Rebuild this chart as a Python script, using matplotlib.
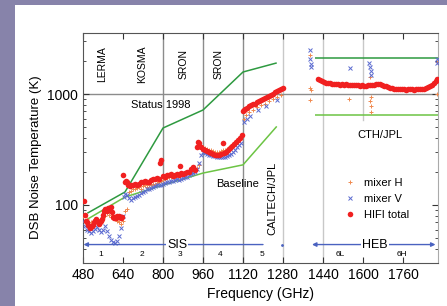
import matplotlib
matplotlib.use("Agg")
import matplotlib.pyplot as plt
from matplotlib.patches import Rectangle

plt.rcParams['font.family'] = ['Liberation Sans', 'DejaVu Sans']

# HIFI total (red dots), GHz / K
tot_f = [484, 488, 492, 496, 500, 504, 508, 512, 516, 520, 524, 528, 532, 536, 540, 544,
         548, 552, 556, 560, 564, 568, 572, 576, 580, 584, 588, 592, 596, 600, 604, 608,
         612, 616, 620, 624, 628, 632, 636, 640, 648, 652, 656, 660, 664, 668, 672, 680,
         688, 696, 704, 712, 720, 728, 736, 744, 752, 760, 768, 776, 784, 788, 792, 800,
         808, 816, 824, 832, 840, 848, 856, 864, 868, 872, 880, 888, 896, 904, 912, 920,
         928, 936, 940, 944, 952, 960, 968, 976, 984, 992, 1000, 1008, 1016, 1024, 1032,
         1040, 1044, 1052, 1060, 1068, 1076, 1084, 1092, 1100, 1108, 1116, 1120, 1124,
         1128, 1136, 1144, 1152, 1160, 1168, 1176, 1184, 1192, 1200, 1208, 1216, 1224,
         1232, 1240, 1248, 1256, 1264, 1272, 1278]
tot_k = [109, 82, 72, 70, 66, 64, 62, 63, 65, 66, 70, 72, 74, 72, 70, 68,
         70, 72, 75, 82, 88, 92, 90, 88, 94, 92, 90, 96, 86, 78, 76, 78,
         77, 79, 78, 80, 78, 76, 78, 186, 160, 165, 160, 152, 150, 148, 150, 150,
         155, 150, 155, 160, 162, 165, 162, 160, 168, 170, 172, 175, 172, 240, 255, 182,
         180, 185, 188, 190, 182, 185, 190, 188, 225, 195, 192, 195, 200, 198, 210, 222,
         205, 330, 370, 360, 335, 322, 315, 305, 298, 292, 288, 283, 282, 283, 288,
         360, 292, 300, 310, 325, 340, 352, 370, 385, 400, 430, 700, 720,
         735, 755, 775, 790, 805, 820, 840, 860, 880, 900, 920, 945, 970,
         990, 1010, 1040, 1065, 1095, 1120, 1140]
heb_f = [1420, 1428, 1436, 1444, 1452, 1460, 1468, 1476, 1484, 1492, 1500, 1508, 1516,
         1524, 1532, 1540, 1548, 1556, 1564, 1572, 1580, 1588, 1596, 1604, 1612, 1620,
         1628, 1636, 1644, 1652, 1660, 1668, 1676, 1684, 1692, 1700, 1708, 1716, 1724,
         1732, 1740, 1748, 1756, 1764, 1772, 1780, 1788, 1796, 1804, 1812, 1820, 1828,
         1836, 1844, 1852, 1860, 1868, 1876, 1884, 1892, 1896]
heb_k = [1380, 1340, 1300, 1280, 1265, 1250, 1255, 1240, 1230, 1240, 1225, 1215, 1225,
         1210, 1220, 1205, 1215, 1200, 1210, 1195, 1205, 1190, 1195, 1185, 1180, 1195,
         1205, 1215, 1200, 1225, 1240, 1230, 1215, 1190, 1170, 1150, 1135, 1125, 1120,
         1110, 1115, 1105, 1100, 1110, 1095, 1105, 1100, 1110, 1095, 1105, 1115, 1105,
         1120, 1115, 1130, 1150, 1170, 1200, 1250, 1320, 1380]

# mixer V (blue x)
v_f = [480, 488, 496, 504, 512, 520, 528, 536, 544, 552, 560, 568, 576, 584, 592, 600,
       608, 616, 624, 632, 640, 644, 648, 656, 664, 672, 680, 688, 696, 704, 712, 720,
       728, 736, 744, 752, 760, 768, 776, 784, 792, 800, 808, 816, 824, 832, 840, 848,
       856, 864, 872, 880, 888, 896, 904, 912, 920, 928, 936, 944, 952, 960, 968, 976,
       984, 992, 1000, 1008, 1016, 1024, 1032, 1040, 1048, 1056, 1064, 1072, 1080, 1088,
       1096, 1104, 1112, 1124, 1136, 1148, 1180, 1212, 1256,
       1388, 1388, 1390, 1392, 1548, 1625, 1628, 1630, 1632, 1896, 1896]
v_k = [72, 64, 60, 58, 56, 58, 61, 63, 60, 57, 60, 64, 58, 52, 48, 46,
       45, 47, 52, 62, 80, 118, 126, 122, 116, 112, 115, 118, 120, 124, 128, 132,
       135, 138, 140, 142, 145, 148, 150, 152, 150, 155, 158, 160, 162, 165, 163, 167,
       170, 168, 172, 175, 178, 180, 185, 190, 195, 200, 210, 240, 280, 300, 295, 290,
       285, 280, 278, 275, 272, 270, 268, 270, 272, 275, 280, 290, 300, 315,
       330, 345, 360, 560, 600, 640, 718, 780, 885,
       2500, 2050, 1850, 1750, 1710, 1900, 1750, 1600, 1480, 2050, 1900]

# mixer H (orange +)
h_f = [480, 488, 496, 504, 512, 520, 528, 536, 544, 552, 560, 568, 576, 584, 592, 600,
       608, 616, 624, 632, 640, 648, 656, 664, 672, 680, 688, 696, 704, 712, 720, 728,
       736, 744, 752, 760, 768, 776, 784, 792, 800, 808, 816, 824, 832, 840, 848, 856,
       864, 872, 880, 888, 896, 904, 912, 920, 928, 936, 944, 952, 960, 968, 976, 984,
       992, 1000, 1008, 1016, 1024, 1032, 1040, 1048, 1056, 1064, 1072, 1080, 1088, 1096,
       1104, 1112, 1122, 1132, 1144, 1160, 1176, 1192, 1208, 1224, 1240, 1256, 1272,
       1386, 1388, 1390, 1388, 1545, 1628, 1630, 1628, 1630, 1632, 1896, 1896]
h_k = [80, 70, 74, 68, 70, 72, 74, 70, 72, 75, 78, 80, 85, 82, 78, 76,
       74, 72, 70, 68, 72, 88, 92, 130, 135, 138, 140, 142, 145, 140, 148, 150,
       146, 150, 152, 155, 150, 158, 162, 165, 168, 172, 175, 178, 180, 182, 178, 185,
       188, 190, 192, 195, 198, 200, 205, 210, 212, 215, 230, 320, 330, 325, 320, 315,
       310, 305, 300, 298, 300, 305, 310, 315, 320, 330, 340, 350, 365, 380,
       395, 420, 600, 650, 690, 720, 760, 790, 820, 860, 900, 940, 975,
       2250, 1130, 1080, 880, 900, 1420, 940, 860, 780, 690, 1000, 1950]

status_f = [500, 648, 800, 960, 1120, 1252]
status_k = [85, 131, 494, 718, 1580, 1900]
base_f = [500, 648, 800, 960, 1120, 1253]
base_k = [75, 118, 151, 194, 230, 505]

groups = ['LERMA', 'KOSMA', 'SRON', 'SRON']
group_f = [556, 716, 884, 1024]
bands = ['1', '2', '3', '4', '5', '6L', '6H']
band_f = [552, 716, 868, 1028, 1196, 1508, 1756]

fig = plt.figure(figsize=(4.47, 3.06), dpi=100)
fig.patch.set_facecolor('#8783aa')
fig.patches.append(Rectangle((15 / 447, 0), 1, 301 / 306, transform=fig.transFigure,
                             facecolor='white', edgecolor='none', zorder=-5))
ax = fig.add_axes([83 / 447, 43 / 306, 355 / 447, 230 / 306])
ax.set_zorder(1)
ax.set_yscale('log')
ax.set_xlim(480, 1900)
ax.set_ylim(30, 3550)

for f in [800, 960, 1120]:
    ax.axvline(f, color='#8c8c8c', lw=1.0, zorder=1)
for f in [1280, 1440]:
    ax.axvline(f, color='#c8c8c8', lw=1.0, zorder=1)
ax.axvline(1600, ymin=0.62, color='#c8c8c8', lw=1.0, zorder=1)
ax.axhline(1000, color='#8c8c8c', lw=1.0, zorder=1)

ax.plot(status_f, status_k, color='#2e9a40', lw=1.1, zorder=2)
ax.plot(base_f, base_k, color='#6cc444', lw=1.1, zorder=2)
ax.hlines(2110, 1408, 1900, color='#2e9a40', lw=1.1, zorder=2)
ax.hlines(647, 1408, 1900, color='#6cc444', lw=1.1, zorder=2)

ax.plot(h_f, h_k, ls='none', marker='+', ms=3, mew=0.7, color='#f08a50', zorder=3,
        label='mixer H')
ax.plot(v_f, v_k, ls='none', marker='x', ms=2.5, mew=0.7, color='#5a6ad0', zorder=3,
        label='mixer V')
ax.plot(tot_f, tot_k, ls='none', marker='o', ms=4, mew=0, color='#f02020', zorder=4,
        label='HIFI total')
ax.plot(heb_f, heb_k, ls='none', marker='o', ms=4, mew=0, color='#f02020', zorder=4)

# SIS / HEB ranges
ax.annotate('', xy=(482, 44), xytext=(1200, 44),
            arrowprops=dict(arrowstyle='-|>', color='#4a62c0', lw=1.0,
                            mutation_scale=6, shrinkA=0, shrinkB=0))
ax.plot([1276], [44], marker='.', ms=2, color='#4a62c0')
ax.annotate('', xy=(1396, 44), xytext=(1890, 44),
            arrowprops=dict(arrowstyle='<|-|>', color='#4a62c0', lw=1.0,
                            mutation_scale=6, shrinkA=0, shrinkB=0))
ax.text(856, 44, 'SIS', ha='center', va='center', fontsize=9,
        bbox=dict(facecolor='white', edgecolor='none', pad=1))
ax.text(1648, 44, 'HEB', ha='center', va='center', fontsize=9,
        bbox=dict(facecolor='white', edgecolor='none', pad=1))
for lab, f in zip(bands, band_f):
    ax.text(f, 36, lab, ha='center', va='center', fontsize=6)
for lab, f in zip(groups, group_f):
    ax.text(f, 1850, lab, ha='center', va='center', rotation=90, fontsize=7.5)

ax.text(792, 796, 'Status 1998', ha='center', va='center', fontsize=8)
ax.text(1100, 155, 'Baseline', ha='center', va='center', fontsize=8)
ax.text(1236, 115, 'CALTECH/JPL', ha='center', va='center', rotation=90, fontsize=8)
ax.text(1668, 428, 'CTH/JPL', ha='center', va='center', fontsize=8)

ax.legend(loc='upper left', bbox_to_anchor=(0.707, 0.413), frameon=False, fontsize=8,
          handlelength=1.0, handletextpad=0.8, labelspacing=0.55, markerscale=1.0)

ax.set_xticks(range(480, 1761, 160))
ax.tick_params(which='both', direction='in', top=True, right=True, labelsize=10,
               colors='#333333', labelcolor='black')
ax.tick_params(which='major', length=4)
ax.tick_params(which='minor', length=2.5)
ax.set_yticks([100, 1000])
ax.set_yticklabels(['100', '1000'])
ax.yaxis.set_minor_formatter(plt.NullFormatter())
for s in ax.spines.values():
    s.set_color('#555555')
ax.spines['right'].set_color('#aaaaaa')

ax.set_xlabel('Frequency (GHz)', fontsize=10, labelpad=4)
ax.set_ylabel('DSB Noise Temperature (K)', fontsize=9.5)
ax.yaxis.set_label_coords(-0.115, 0.46)

fig.savefig('out.png', dpi=100, facecolor=fig.get_facecolor())
